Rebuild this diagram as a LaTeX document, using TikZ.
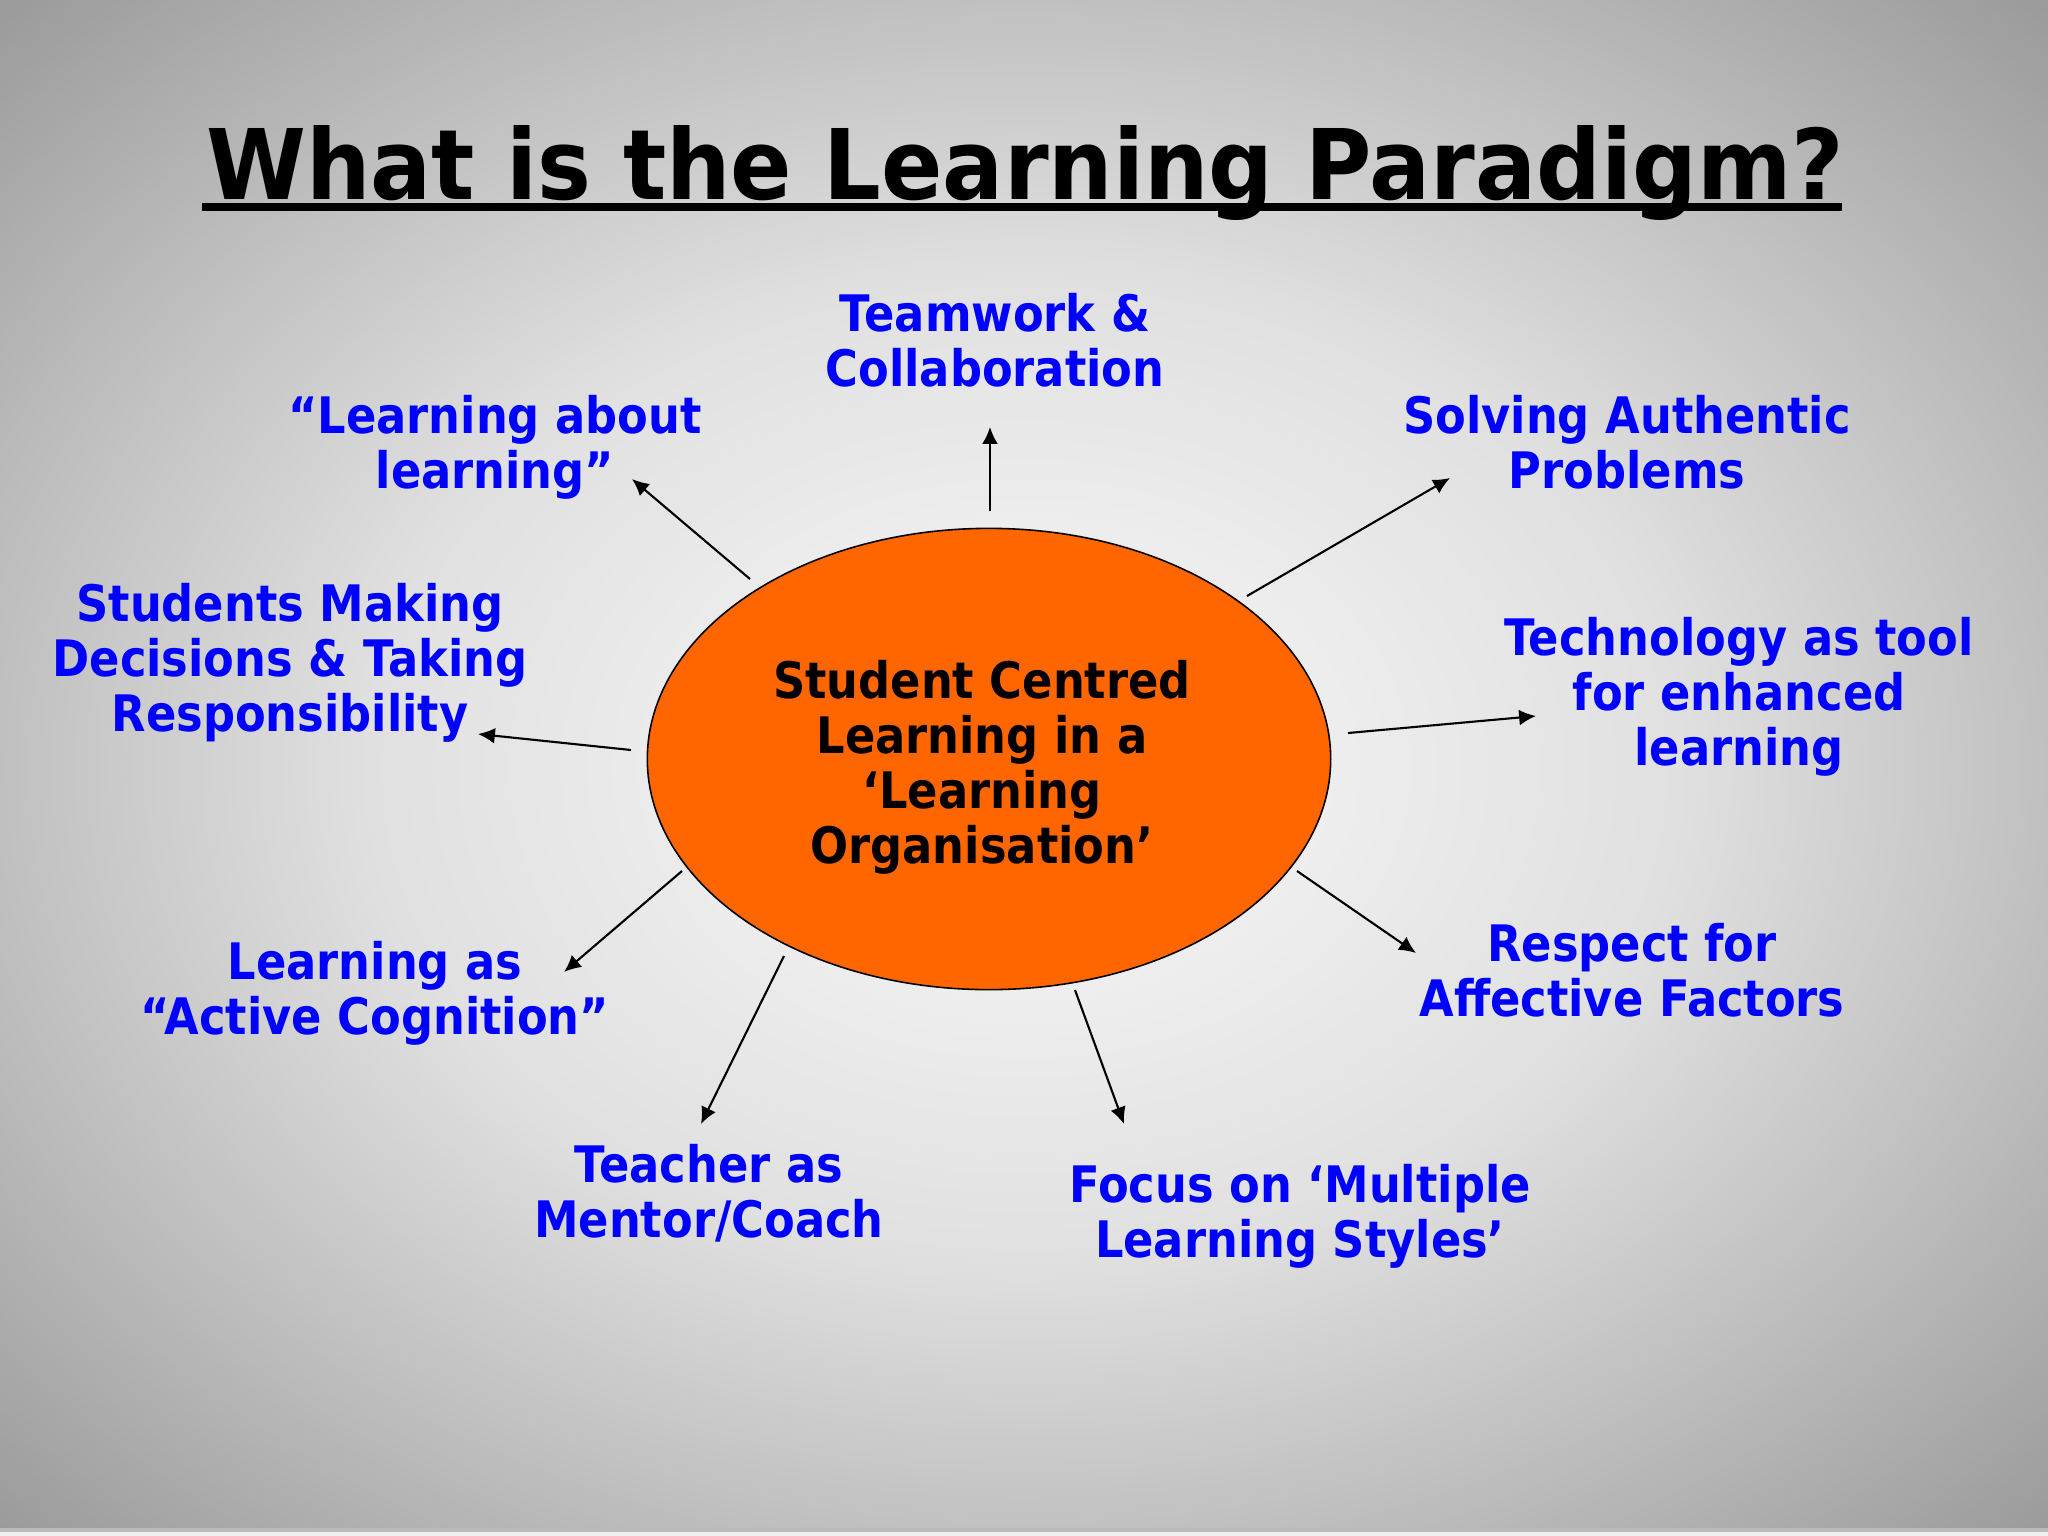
\documentclass[tikz,border=0pt]{standalone}
\usepackage{fontspec}
\setmainfont{DejaVu Sans}[FakeStretch=0.89]
\newfontfamily\titlefont{DejaVu Sans}[FakeStretch=0.93]
\usetikzlibrary{arrows.meta,shapes.geometric}
\definecolor{lblblue}{RGB}{0,0,255}
\definecolor{orng}{RGB}{255,102,0}
\definecolor{bgca}{RGB}{243,243,243}
\definecolor{bgcb}{RGB}{240,240,240}
\definecolor{bgcm}{RGB}{224,224,224}
\definecolor{bgcc}{RGB}{192,192,192}
\definecolor{bgcd}{RGB}{154,154,154}
\pgfdeclareradialshading{bgshade}{\pgfpoint{0bp}{0bp}}{color(0bp)=(bgca); color(6bp)=(bgcb); color(16bp)=(bgcm); color(25bp)=(bgcc); color(35.4bp)=(bgcd); color(50bp)=(bgcd)}
\begin{document}
\begin{tikzpicture}[x=0.01cm,y=-0.01cm,
  lbl/.style={text=lblblue, font=\bfseries\fontsize{14.3pt}{15.65pt}\selectfont, align=center, inner sep=0pt},
  hubtext/.style={text=black, font=\bfseries\fontsize{14.3pt}{15.65pt}\selectfont, align=center, inner sep=0pt},
  arr/.style={-{Latex[length=4.8pt,width=4.5pt]}, line width=0.6pt, black}]
\useasboundingbox (0,0) rectangle (2048,1536);
\shade[shading=bgshade] (0,0) rectangle (2048,1536);
\fill[black!27] (0,1528) rectangle (2048,1532);
\fill[black!6] (0,1532) rectangle (2048,1536);

% title
\node[font=\titlefont\bfseries\fontsize{27.7pt}{30pt}\selectfont, anchor=base, inner sep=0pt] (title) at (1025,199) {What is the Learning Paradigm?};
\draw[line width=2.3pt] (202,207) -- (1842,207);

% hub
\node[draw, fill=orng, ellipse, minimum width=6.83cm, minimum height=4.61cm, line width=0.45pt, inner sep=0pt] (hub) at (989,759) {};
\node[hubtext] (hubt) at (982,767) {Student Centred\\Learning in a\\‘Learning\\Organisation’};

% labels
\node[lbl] (team) at (995,340) {Teamwork \&\\Collaboration};
\node[lbl] (lal) at (495,447) {“Learning about\\learning”};
\node[lbl] (solv) at (1627,442) {Solving Authentic\\Problems};
\node[lbl] (stud) at (290,663) {Students Making\\Decisions \& Taking\\Responsibility};
\node[lbl] (tech) at (1739,697) {Technology as tool\\for enhanced\\learning};
\node[lbl] (lac) at (375,993) {Learning as\\“Active Cognition”};
\node[lbl] (resp) at (1632,970) {Respect for\\Affective Factors};
\node[lbl] (teach) at (709,1193) {Teacher as\\Mentor/Coach};
\node[lbl] (focus) at (1300,1216) {Focus on ‘Multiple\\Learning Styles’};

% connector ends
\coordinate (s1) at (990,511);  \coordinate (e1) at (990,427);
\coordinate (s2) at (750,579);  \coordinate (e2) at (632,479);
\coordinate (s3) at (1247,596); \coordinate (e3) at (1450,478);
\coordinate (s4) at (631,750);  \coordinate (e4) at (478,734);
\coordinate (s5) at (1348,733); \coordinate (e5) at (1536,716);
\coordinate (s6) at (682,871);  \coordinate (e6) at (564,972);
\coordinate (s7) at (1297,871); \coordinate (e7) at (1416,953);
\coordinate (s8) at (784,956);  \coordinate (e8) at (701,1124);
\coordinate (s9) at (1075,990); \coordinate (e9) at (1124,1124);

\draw[arr] (s1) -- (e1);
\draw[arr] (s2) -- (e2);
\draw[arr] (s3) -- (e3);
\draw[arr] (s4) -- (e4);
\draw[arr] (s5) -- (e5);
\draw[arr] (s6) -- (e6);
\draw[arr] (s7) -- (e7);
\draw[arr] (s8) -- (e8);
\draw[arr] (s9) -- (e9);
\end{tikzpicture}
\end{document}
